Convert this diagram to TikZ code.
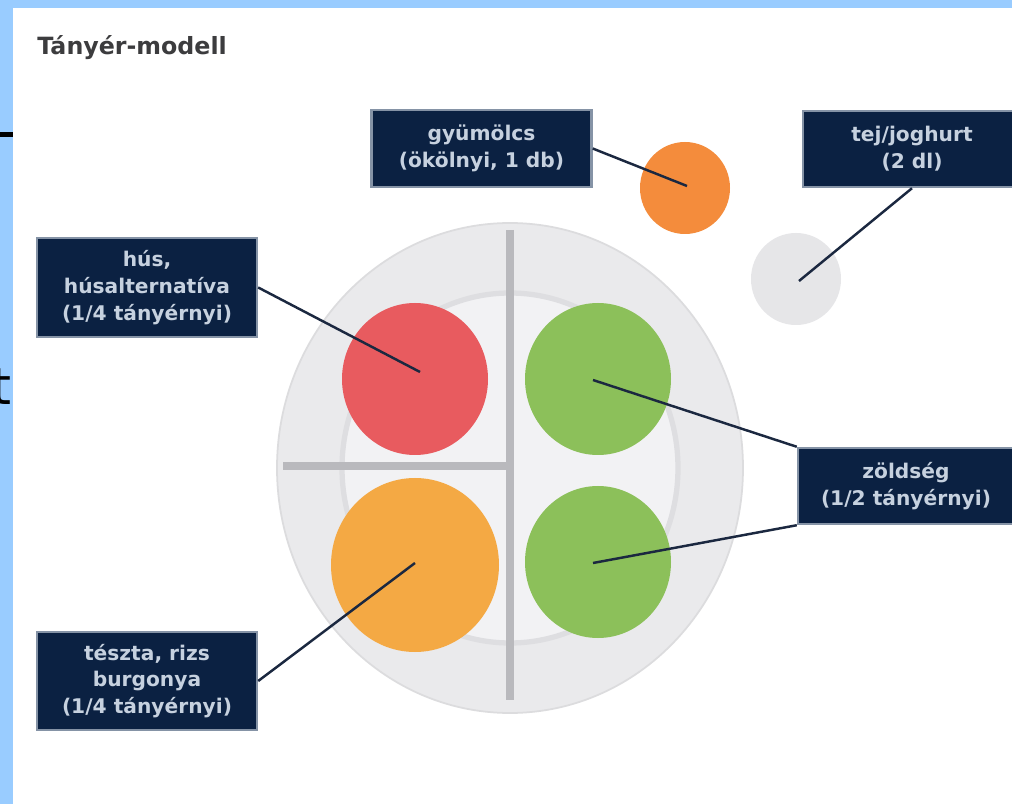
\documentclass[tikz,border=0pt]{standalone}
\usepackage{fontspec}
\setmainfont{DejaVu Sans}

\definecolor{framesky}{HTML}{99CCFF}
\definecolor{titlegray}{HTML}{3C3C3E}
\definecolor{tagnavy}{HTML}{0B2142}
\definecolor{tagedge}{HTML}{8593A6}
\definecolor{tagtext}{HTML}{C6D1DF}
\definecolor{linknavy}{HTML}{1B2840}
\definecolor{platerim}{HTML}{EAEAEC}
\definecolor{rimedge}{HTML}{DCDCDE}
\definecolor{platein}{HTML}{F2F2F4}
\definecolor{ringshade}{HTML}{DEDEE1}
\definecolor{divider}{HTML}{B9B9BD}
\definecolor{meatred}{HTML}{E85B5F}
\definecolor{veggreen}{HTML}{8CC05A}
\definecolor{carborange}{HTML}{F4A944}
\definecolor{fruitorange}{HTML}{F48C3C}
\definecolor{milkgray}{HTML}{E6E6E8}

\begin{document}
\begin{tikzpicture}[x=0.02cm, y=-0.02cm,
  tag/.style={fill=tagnavy, draw=tagedge, line width=1.4pt, text=tagtext,
    font=\bfseries\fontsize{11.5}{15.3}\selectfont, align=center,
    inner sep=0pt, minimum width=4.4cm},
  link/.style={draw=linknavy, line width=1.4pt}]

  \useasboundingbox (0,0) rectangle (1012,804);

  % -- Frame --
  \fill[framesky] (0,0) rectangle (1012,804);
  \fill[white] (13,8) rectangle (1012,804);
  \fill[black] (0,132) rectangle (13,137);
  \node[anchor=base east, inner sep=0pt, font=\fontsize{29}{30}\selectfont] (cut) at (12,405) {t};

  % -- Title --
  \node[anchor=base west, inner sep=0pt, text=titlegray,
    font=\bfseries\fontsize{13.5}{16}\selectfont] (title) at (37,55) {Tányér-modell};

  % -- Plate --
  \fill[platerim] (510,468) ellipse [x radius=233, y radius=245];
  \draw[rimedge, line width=1pt] (510,468) ellipse [x radius=233, y radius=245];
  \fill[platein] (510,468) ellipse [x radius=168, y radius=175];
  \draw[ringshade, line width=3pt] (510,468) ellipse [x radius=168, y radius=175];
  \draw[divider, line width=4pt] (510,230) -- (510,700);
  \draw[divider, line width=4pt] (283,466) -- (510,466);

  % -- Portions --
  \fill[meatred] (415,379) ellipse [x radius=73, y radius=76];
  \fill[veggreen] (598,379) ellipse [x radius=73, y radius=76];
  \fill[carborange] (415,565) ellipse [x radius=84, y radius=87];
  \fill[veggreen] (598,562) ellipse [x radius=73, y radius=76];
  \fill[fruitorange] (685,188) ellipse [x radius=45, y radius=46];
  \fill[milkgray] (796,279) ellipse [x radius=45, y radius=46];

  \coordinate (meatpt) at (420,372);
  \coordinate (carbpt) at (415,563);
  \coordinate (vegtop) at (593,380);
  \coordinate (vegbot) at (593,563);
  \coordinate (fruitpt) at (687,186);
  \coordinate (milkpt) at (799,281);

  % -- Labels --
  \node[tag, minimum height=1.54cm] (gyumolcs) at (481.5,148.5) {gyümölcs\\(ökölnyi, 1 db)};
  \node[tag, minimum width=4.36cm, minimum height=1.52cm] (tej) at (912,149) {tej/joghurt\\(2 dl)};
  \node[tag, minimum height=1.98cm] (hus) at (147,287.5) {hús,\\húsalternatíva\\(1/4 tányérnyi)};
  \node[tag, minimum height=1.96cm] (teszta) at (147,681) {tészta, rizs\\burgonya\\(1/4 tányérnyi)};
  \node[tag, minimum width=4.32cm, minimum height=1.52cm] (zoldseg) at (906,486) {zöldség\\(1/2 tányérnyi)};

  % -- Pointers --
  \draw[link] (gyumolcs.east) -- (fruitpt);
  \draw[link] (tej.south) -- (milkpt);
  \draw[link] (hus.east) -- (meatpt);
  \draw[link] (teszta.east) -- (carbpt);
  \draw[link] (zoldseg.north west) -- (vegtop);
  \draw[link] (zoldseg.south west) -- (vegbot);

\end{tikzpicture}
\end{document}
